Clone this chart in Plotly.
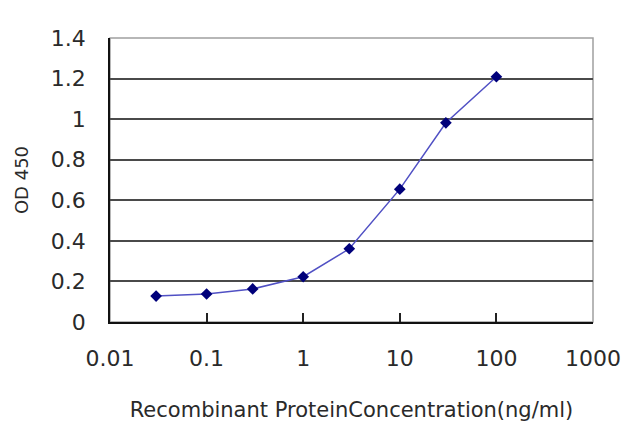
import plotly.graph_objects as go

concentration = [0.03, 0.1, 0.3, 1, 3, 10, 30, 100]
od450 = [0.128, 0.138, 0.163, 0.223, 0.361, 0.655, 0.982, 1.209]

x_tickvals = [0.01, 0.1, 1, 10, 100, 1000]
x_ticktext = ["0.01", "0.1", "1", "10", "100", "1000"]
y_tickvals = [0, 0.2, 0.4, 0.6, 0.8, 1.0, 1.2, 1.4]
y_ticktext = ["0", "0.2", "0.4", "0.6", "0.8", "1", "1.2", "1.4"]

fig = go.Figure()
fig.add_trace(go.Scatter(
    x=concentration, y=od450, mode="lines+markers",
    line=dict(color="#5050c4", width=1.5),
    marker=dict(symbol="diamond", size=9, color="#00007a"),
    showlegend=False,
))

fig.add_shape(type="rect", xref="paper", yref="paper", x0=0, y0=0, x1=1, y1=1,
              line=dict(color="#a0a0a0", width=1.5), layer="below")

fig.update_layout(
    width=640, height=427,
    margin=dict(l=102, r=55, t=30, b=113),
    paper_bgcolor="white", plot_bgcolor="white",
    font=dict(family="DejaVu Sans", color="#2a2a2a"),
    xaxis=dict(
        type="log", range=[-2, 3],
        tickvals=x_tickvals, ticktext=x_ticktext,
        tickfont=dict(size=22, color="#2a2a2a"),
        ticks="inside", ticklen=9, tickcolor="#222222", tickwidth=1.5,
        showgrid=False, zeroline=False,
        showline=True, linecolor="#111111", linewidth=1.5,
        ticklabelstandoff=16,
        title=dict(text="Recombinant ProteinConcentration(ng/ml)",
                   font=dict(size=21, color="#2a2a2a"), standoff=32),
    ),
    yaxis=dict(
        range=[0, 1.4],
        tickvals=y_tickvals, ticktext=y_ticktext,
        tickfont=dict(size=22, color="#2a2a2a"),
        ticks="", showgrid=True, gridcolor="#4a4a4a", gridwidth=2,
        zeroline=False,
        showline=True, linecolor="#111111", linewidth=1.5,
        ticklabelstandoff=18,
        title=dict(text="OD 450", font=dict(size=18, color="#2a2a2a"), standoff=18),
    ),
)

fig.write_html("out.html")
